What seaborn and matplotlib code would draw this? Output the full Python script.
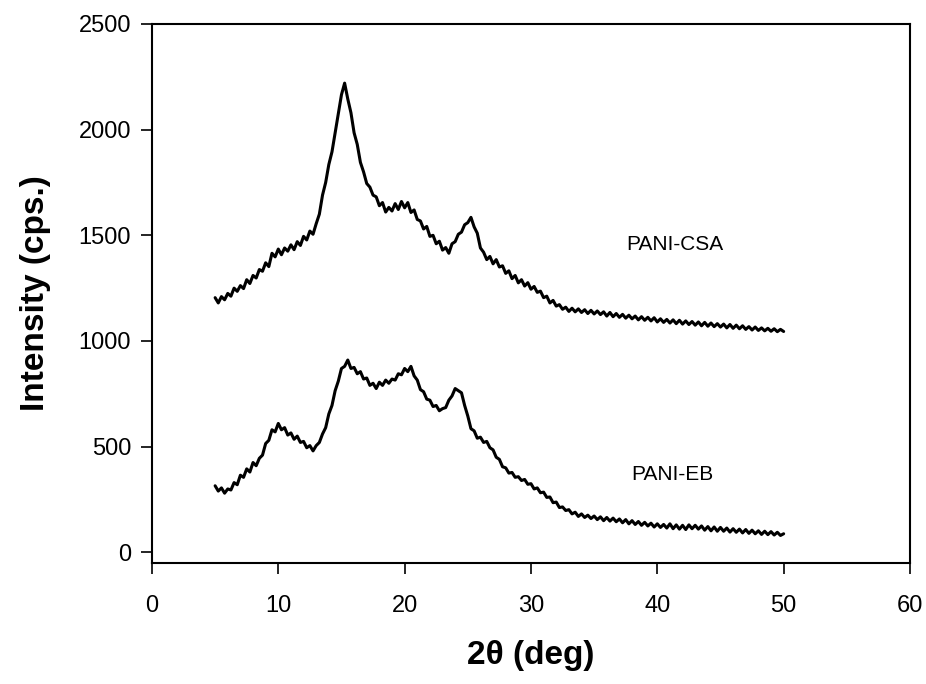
"""
XRD patterns of PANI-CSA and PANI-EB.
"""
import numpy as np
import pandas as pd
import seaborn as sns
import matplotlib.pyplot as plt

# 2-theta grid (deg), step 0.25 from 5 to 50
two_theta_start = 5.0
two_theta_step = 0.25

# Intensity (cps.)
pani_csa = [
    1205, 1180, 1210, 1195, 1225, 1212, 1250, 1235,
    1262, 1248, 1290, 1272, 1310, 1298, 1338, 1330,
    1370, 1352, 1415, 1398, 1435, 1408, 1440, 1425,
    1455, 1432, 1470, 1452, 1495, 1478, 1520, 1505,
    1555, 1600, 1690, 1750, 1835, 1895, 1985, 2075,
    2165, 2220, 2145, 2080, 1985, 1930, 1845, 1800,
    1745, 1728, 1690, 1682, 1640, 1655, 1610, 1632,
    1615, 1650, 1622, 1660, 1630, 1655, 1608, 1620,
    1575, 1568, 1530, 1542, 1495, 1500, 1460, 1472,
    1430, 1442, 1415, 1460, 1470, 1505, 1515, 1550,
    1560, 1585, 1540, 1510, 1440, 1420, 1385, 1400,
    1365, 1385, 1350, 1356, 1320, 1332, 1295, 1310,
    1275, 1290, 1260, 1276, 1245, 1258, 1230, 1236,
    1205, 1212, 1180, 1192, 1165, 1172, 1150, 1160,
    1140, 1155, 1138, 1152, 1135, 1148, 1130, 1145,
    1128, 1142, 1125, 1138, 1118, 1135, 1115, 1130,
    1112, 1126, 1108, 1122, 1105, 1118, 1100, 1115,
    1098, 1112, 1095, 1110, 1090, 1105, 1088, 1102,
    1085, 1100, 1082, 1098, 1080, 1095, 1078, 1092,
    1075, 1090, 1072, 1088, 1070, 1085, 1068, 1082,
    1066, 1080, 1062, 1078, 1060, 1075, 1058, 1072,
    1055, 1068, 1052, 1066, 1050, 1062, 1048, 1060,
    1046, 1058, 1044, 1055, 1045,
]

pani_eb = [
    315, 290, 305, 280, 300, 295, 330, 320,
    365, 355, 395, 380, 425, 410, 445, 460,
    515, 530, 580, 570, 610, 580, 590, 555,
    565, 535, 550, 520, 525, 495, 505, 480,
    505, 520, 560, 590, 655, 695, 765, 810,
    870, 880, 910, 870, 875, 845, 855, 820,
    825, 790, 800, 775, 805, 790, 815, 800,
    820, 815, 845, 840, 870, 855, 880, 835,
    815, 770, 760, 725, 720, 690, 695, 670,
    680, 685, 720, 740, 775, 765, 755, 695,
    645, 585, 575, 540, 545, 520, 525, 495,
    485, 450, 440, 405, 400, 375, 378, 355,
    358, 340, 345, 322, 325, 300, 305, 282,
    285, 260, 262, 235, 238, 212, 215, 198,
    202, 182, 190, 170, 182, 165, 176, 160,
    172, 155, 168, 150, 165, 148, 162, 145,
    158, 140, 155, 135, 150, 132, 146, 128,
    142, 125, 138, 120, 135, 118, 132, 115,
    135, 112, 130, 110, 128, 108, 130, 112,
    128, 110, 125, 105, 122, 102, 120, 100,
    118, 100, 115, 96, 112, 95, 110, 92,
    108, 90, 105, 88, 102, 85, 100, 84,
    98, 82, 95, 80, 88,
]

series_labels = ["PANI-CSA", "PANI-EB"]
label_pos = [(41.4, 1456), (41.2, 369)]

x_ticks = [0, 10, 20, 30, 40, 50, 60]
y_ticks = [0, 500, 1000, 1500, 2000, 2500]


def main():
    sns.set_style("ticks")
    plt.rcParams['font.family'] = ['Liberation Sans', 'DejaVu Sans']
    plt.rcParams['text.color'] = 'black'
    plt.rcParams['axes.labelcolor'] = 'black'

    two_theta = two_theta_start + two_theta_step * np.arange(len(pani_csa))
    data = pd.DataFrame({
        'two_theta': np.concatenate([two_theta, two_theta]),
        'intensity': np.array(pani_csa + pani_eb, dtype=float),
        'sample': [series_labels[0]] * len(pani_csa) + [series_labels[1]] * len(pani_eb),
    })

    fig = plt.figure(figsize=(9.26, 6.84), dpi=100)
    ax = fig.add_axes([0.1641, 0.177, 0.8186, 0.788])

    for name in series_labels:
        sub = data[data['sample'] == name]
        sns.lineplot(x='two_theta', y='intensity', data=sub, ax=ax,
                     color='black', linewidth=2.2, estimator=None)

    for name, (tx, ty) in zip(series_labels, label_pos):
        ax.text(tx, ty, name, ha='center', va='center', fontsize=15, color='black')

    ax.set_xlim(0, 60)
    ax.set_ylim(-50, 2500)
    ax.set_xticks(x_ticks)
    ax.set_yticks(y_ticks)
    ax.tick_params(direction='out', length=8, width=1.2, labelsize=17,
                   colors='black', labelcolor='black', pad=7)
    ax.tick_params(axis='x', pad=15)
    for side in ['left', 'right', 'top', 'bottom']:
        ax.spines[side].set_visible(True)
        ax.spines[side].set_linewidth(1.5)
        ax.spines[side].set_color('black')

    ax.set_xlabel('2\u03b8 (deg)', fontsize=24, fontweight='bold', labelpad=17)
    ax.set_ylabel('Intensity (cps.)', fontsize=24, fontweight='bold', labelpad=20)

    fig.savefig('out.png', dpi=100)


if __name__ == "__main__":
    main()
